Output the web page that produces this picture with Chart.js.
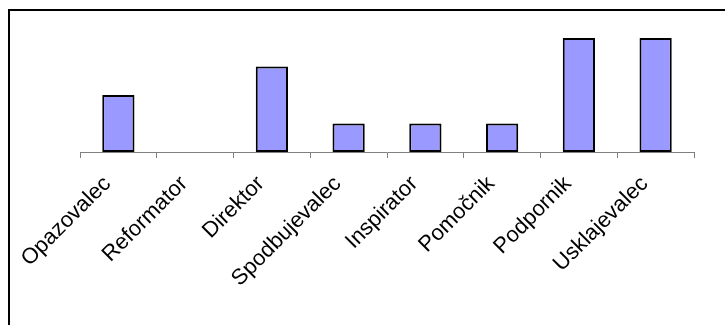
<!DOCTYPE html>
<html>
<head>
<meta charset="utf-8">
<script src="https://cdn.jsdelivr.net/npm/chart.js@4"></script>
<style>
  html, body { margin: 0; padding: 0; background: #fff; }
  #wrap { position: relative; width: 725px; height: 325px; overflow: hidden; }
  #frame { position: absolute; left: 8px; top: 9px; width: 800px; height: 400px;
           border-top: 2px solid #000; border-left: 2px solid #000; }
  canvas { position: absolute; left: 0; top: 0; }
</style>
</head>
<body>
<div id="wrap">
  <div id="frame"></div>
  <canvas id="myChart" width="725" height="325"></canvas>
</div>
<script>
// vloge v timu
let roles = ['Opazovalec', 'Reformator', 'Direktor', 'Spodbujevalec', 'Inspirator', 'Pomočnik', 'Podpornik', 'Usklajevalec'];
let counts = [2, 0, 3, 1, 1, 1, 4, 4];

const data = {
  labels: roles,
  datasets: [{
    data: counts,
    backgroundColor: '#9999FF',
    borderColor: '#000000',
    borderWidth: 2,
    borderSkipped: false,
    barPercentage: 0.42,
    categoryPercentage: 1
  }]
};

const config = {
  type: 'bar',
  data,
  options: {
    responsive: false,
    animation: false,
    layout: { padding: { left: 80, right: 31, top: 38, bottom: 0 } },
    plugins: { legend: { display: false }, tooltip: { enabled: false } },
    scales: {
      x: {
        afterFit: function(scale) { scale.height = 173; },
        border: { color: '#808080', width: 1 },
        grid: { drawOnChartArea: false, color: '#808080', tickLength: 6, offset: true },
        ticks: {
          autoSkip: false,
          minRotation: 45,
          maxRotation: 45,
          padding: 13,
          labelOffset: -11,
          color: '#000',
          font: { family: 'Liberation Sans, Arial, sans-serif', size: 22 }
        }
      },
      y: {
        display: false,
        min: 0,
        max: 4
      }
    }
  }
};

let myChart = new Chart(document.getElementById('myChart'), config);
</script>
</body>
</html>
